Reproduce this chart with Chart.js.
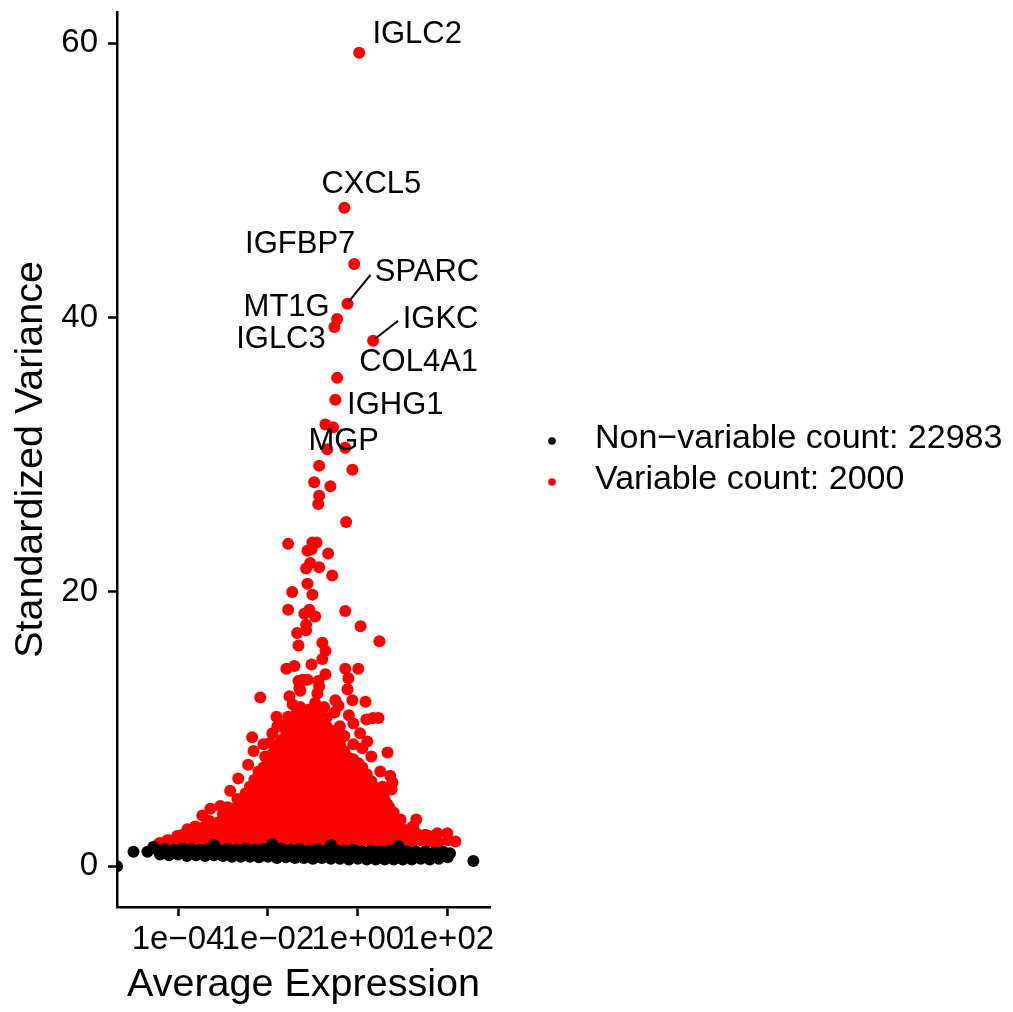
<!DOCTYPE html>
<html>
<head>
<meta charset="utf-8">
<script src="https://cdn.jsdelivr.net/npm/chart.js@4.4.1/dist/chart.umd.min.js"></script>
<style>
  html, body { margin: 0; padding: 0; background: #fff; }
  canvas { display: block; }
</style>
</head>
<body>
<canvas id="chart" width="1013" height="1012"></canvas>
<script>
// ---- data (x values are log10 of average expression) ----
const xTicks = [1e-4, 1e-2, 1, 1e2];
const xTickLabels = ["1e\u221204", "1e\u221202", "1e+00", "1e+02"];
const yTicks = [0, 20, 40, 60];
const xLog10Range = [-5.357, 2.94];
const yRange = [-2.97, 62.27];

const seriesLabels = ["Non\u2212variable count: 22983", "Variable count: 2000"];

// labelled top genes
const geneNames = ["IGLC2", "CXCL5", "IGFBP7", "SPARC", "MT1G", "IGLC3", "IGKC", "COL4A1", "IGHG1", "MGP"];
const genePoints = [
  [0.03, 59.3], [-0.30, 48.0], [-0.08, 43.9], [-0.23, 41.0], [-0.46, 39.9],
  [-0.52, 39.3], [0.34, 38.3], [-0.46, 35.6], [-0.50, 34.0], [-0.28, 30.5]
];

// scattered variable genes
const variableSparse = [
  [-0.72,32.2],[-0.55,32.0],[-0.68,30.4],[-0.86,29.2],[-0.12,28.9],[-0.97,28.0],[-0.61,27.7],[-0.86,27.0],
  [-0.88,26.4],[-0.26,25.1],[-1.55,23.5],[-1.01,23.6],[-0.92,23.6],[-1.12,23.0],[-1.03,23.1],[-0.66,22.8],
  [-1.06,22.1],[-1.15,21.7],[-0.86,21.8],[-0.57,21.2],[-1.12,20.6],[-1.46,20.0],[-1.01,19.8],[-1.55,18.7],
  [-1.08,18.7],[-1.19,18.4],[-0.95,18.2],[-0.28,18.6],[0.06,17.5],[-1.15,17.6],[-1.35,17.0],[-1.15,17.2],
  [-1.32,16.1],[-0.79,16.3],[-0.72,15.7],[-0.79,15.1],[0.48,16.4],[-1.59,14.4],[-1.41,14.6],[-1.03,14.7],
  [-0.28,14.4],[0.01,14.4],[-0.72,14.0],[-0.21,13.7],[-1.32,13.5],[-1.23,13.6],[-1.12,13.6],[-1.30,13.0],
  [-0.88,13.5],[-0.86,13.1],[-0.23,12.9],[-2.17,12.3],[-1.52,12.4],[-0.90,12.6],[-0.50,12.1],[-0.12,12.1],
  [0.17,12.0],[-1.28,12.8],[-1.28,11.6],[-1.01,11.5],[-0.43,11.7],[-0.52,11.2],[-1.28,11.2],[-1.01,10.9],
  [-1.81,10.9],[-0.10,10.4],[0.19,10.7],[0.34,10.8],[0.46,10.8],[-1.79,10.2],[-1.50,9.8],[-1.28,9.8],
  [-1.12,10.5],[-0.99,10.2],[-0.50,9.6],[-0.50,9.3],[0.21,9.1],[0.66,8.3],[-2.35,9.4],[-2.10,8.9],
  [-2.32,8.4],[-1.79,8.8],[-2.06,8.0],[-1.43,8.5],[-2.44,7.4],[-2.21,6.9],[-1.97,7.1],[-1.72,7.3],
  [-2.28,6.1],[-2.66,6.4],[-2.84,5.5],[-2.68,4.9],[-2.01,5.8],[-1.57,6.5],[-3.28,4.2],[-3.46,3.7],
  [-3.62,2.9],[-3.79,2.7],[-4.02,2.2],[-4.24,1.9],[-4.44,1.6],[-3.06,4.4],[-2.46,4.7],
  [-1.06,8.7],[-0.83,8.0],[-0.57,8.0],[-0.61,7.3],[-0.23,7.8],[-0.10,7.8],[0.01,7.5],[-0.95,7.1],
  [-0.39,6.7],[0.50,6.9],[0.72,6.6],[0.77,6.1],[0.03,5.8],[0.28,5.8],[0.55,5.8],[0.75,5.6],
  [-0.17,5.4],[0.57,5.2],[0.66,4.5],[0.37,4.2],[0.21,3.7],[0.59,3.8],[0.95,3.4],[1.30,3.4],
  [1.23,2.9],[1.57,2.2],[1.77,2.4],[1.99,2.4],[2.17,1.8],[1.75,1.6],[1.17,2.7],[0.89,2.9],[0.43,3.1],
  [-1.7,10.3],[-1.55,10.9],[-1.4,10.4],[-1.35,11.3],[-1.15,11.0],[-0.95,10.6],[-0.8,10.1],[-0.7,10.8],
  [-0.6,9.9],[-0.4,10.2],[-0.3,9.5],[-1.6,9.5],[-1.9,9.7],[-0.75,11.6],[-0.95,11.9],[-1.45,11.8],
  [-0.2,11.0],[0.05,9.7],[0.1,8.6],[-0.1,8.9],[0.3,8.0],[-1.95,9.0]
];

// dense body of variable genes just above the non-variable band
const variableCore = [
  [-4.4,1.7],[-4.2,1.9],[-4.0,1.8],[-3.8,1.9],[-3.6,1.7],[-3.4,1.9],[-3.2,1.8],[-3.0,1.7],[-2.8,1.9],[-2.6,1.8],
  [-2.4,1.7],[-2.2,1.9],[-2.0,1.8],[-1.8,1.7],[-1.6,1.9],[-1.4,1.8],[-1.2,1.7],[-1.0,1.9],[-0.8,1.8],[-0.6,1.7],
  [-0.4,1.9],[-0.2,1.8],[0.0,1.7],[0.2,1.9],[0.4,1.8],[0.6,1.7],[0.8,1.9],[1.0,1.8],[1.2,1.7],[1.4,1.9],
  [1.6,1.8],[1.8,1.7],[2.0,1.9],
  [-3.9,2.3],[-3.7,2.2],[-3.5,2.4],[-3.3,2.3],[-3.1,2.2],[-2.9,2.4],[-2.7,2.3],[-2.5,2.2],[-2.3,2.4],[-2.1,2.3],
  [-1.9,2.2],[-1.7,2.4],[-1.5,2.3],[-1.3,2.2],[-1.1,2.4],[-0.9,2.3],[-0.7,2.2],[-0.5,2.4],[-0.3,2.3],[-0.1,2.2],
  [0.1,2.4],[0.3,2.3],[0.5,2.2],[0.7,2.4],[0.9,2.3],[1.1,2.2],[1.3,2.4],[1.5,2.3],[1.7,2.2],
  [-3.6,2.8],[-3.4,2.9],[-3.2,2.7],[-3.0,2.8],[-2.8,2.9],[-2.6,2.7],[-2.4,2.8],[-2.2,2.9],[-2.0,2.7],[-1.8,2.8],
  [-1.6,2.9],[-1.4,2.7],[-1.2,2.8],[-1.0,2.9],[-0.8,2.7],[-0.6,2.8],[-0.4,2.9],[-0.2,2.7],[0.0,2.8],[0.2,2.9],
  [0.4,2.7],[0.6,2.8],[0.8,2.9],[1.0,2.7],[1.2,2.8],
  [-3.3,3.3],[-3.1,3.2],[-2.9,3.4],[-2.7,3.3],[-2.5,3.2],[-2.3,3.4],[-2.1,3.3],[-1.9,3.2],[-1.7,3.4],[-1.5,3.3],
  [-1.3,3.2],[-1.1,3.4],[-0.9,3.3],[-0.7,3.2],[-0.5,3.4],[-0.3,3.3],[-0.1,3.2],[0.1,3.4],[0.3,3.3],[0.5,3.2],
  [0.7,3.4],[0.9,3.3],
  [-3.0,3.8],[-2.8,3.9],[-2.6,3.7],[-2.4,3.8],[-2.2,3.9],[-2.0,3.7],[-1.8,3.8],[-1.6,3.9],[-1.4,3.7],[-1.2,3.8],
  [-1.0,3.9],[-0.8,3.7],[-0.6,3.8],[-0.4,3.9],[-0.2,3.7],[0.0,3.8],[0.2,3.9],[0.4,3.7],[0.6,3.8],[0.8,3.9],
  [-2.9,4.3],[-2.7,4.3],[-2.5,4.2],[-2.3,4.4],[-2.1,4.3],[-1.9,4.2],[-1.7,4.4],[-1.5,4.3],[-1.3,4.2],[-1.1,4.4],
  [-0.9,4.3],[-0.7,4.2],[-0.5,4.4],[-0.3,4.3],[-0.1,4.2],[0.1,4.4],[0.3,4.3],[0.5,4.2],[0.7,4.3],
  [-2.6,4.8],[-2.4,4.8],[-2.2,4.9],[-2.0,4.7],[-1.8,4.8],[-1.6,4.9],[-1.4,4.7],[-1.2,4.8],[-1.0,4.9],[-0.8,4.7],
  [-0.6,4.8],[-0.4,4.9],[-0.2,4.7],[0.0,4.8],[0.2,4.9],[0.4,4.7],[0.6,4.8],
  [-2.5,5.3],[-2.3,5.3],[-2.1,5.2],[-1.9,5.4],[-1.7,5.3],[-1.5,5.2],[-1.3,5.4],[-1.1,5.3],[-0.9,5.2],[-0.7,5.4],
  [-0.5,5.3],[-0.3,5.2],[-0.1,5.4],[0.1,5.3],[0.3,5.2],[0.5,5.3],
  [-2.4,5.8],[-2.2,5.8],[-2.0,5.9],[-1.8,5.7],[-1.6,5.8],[-1.4,5.9],[-1.2,5.7],[-1.0,5.8],[-0.8,5.9],[-0.6,5.7],
  [-0.4,5.8],[-0.2,5.9],[0.0,5.7],[0.2,5.8],[0.4,5.7],
  [-2.3,6.3],[-2.1,6.3],[-1.9,6.2],[-1.7,6.4],[-1.5,6.3],[-1.3,6.2],[-1.1,6.4],[-0.9,6.3],[-0.7,6.2],[-0.5,6.4],
  [-0.3,6.3],[-0.1,6.2],[0.1,6.3],[0.3,6.2],
  [-2.2,6.7],[-2.0,6.8],[-1.8,6.8],[-1.6,6.9],[-1.4,6.7],[-1.2,6.8],[-1.0,6.9],[-0.8,6.7],[-0.6,6.8],[-0.4,6.9],
  [-0.2,6.7],[0.0,6.8],[0.2,6.7],
  [-2.1,7.2],[-1.9,7.3],[-1.7,7.3],[-1.5,7.2],[-1.3,7.4],[-1.1,7.3],[-0.9,7.2],[-0.7,7.4],[-0.5,7.3],[-0.3,7.2],
  [-0.1,7.3],[0.1,7.2],
  [-2.0,7.7],[-1.8,7.8],[-1.6,7.8],[-1.4,7.9],[-1.2,7.7],[-1.0,7.8],[-0.8,7.9],[-0.6,7.7],[-0.4,7.8],[-0.2,7.9],
  [-1.9,8.2],[-1.7,8.3],[-1.5,8.3],[-1.3,8.2],[-1.1,8.4],[-0.9,8.3],[-0.7,8.2],[-0.5,8.3],[-0.3,8.4],
  [-1.8,8.7],[-1.6,8.8],[-1.4,8.8],[-1.2,8.9],[-1.0,8.7],[-0.8,8.8],[-0.6,8.8],[-0.4,8.9],
  [-1.7,9.2],[-1.5,9.3],[-1.3,9.3],[-1.1,9.2],[-0.9,9.4],[-0.7,9.3],[-0.5,9.1],
  [-1.6,9.9],[-1.4,9.8],[-1.2,9.8],[-1.0,9.9],[-0.8,9.8],[-0.6,9.7],
  [-1.5,10.3],[-1.3,10.2],[-1.1,10.4],[-0.9,10.3],[-0.7,10.2],
  [-1.4,10.8],[-1.2,10.7],[-1.0,10.9],[-0.8,10.8],
  [-1.3,11.3],[-1.1,11.4],[-0.9,11.2]
];

// non-variable genes (band near 1); -Infinity = zero mean, drawn at the axis edge like ggplot
const nonVariable = [
  [-4.5,1.3],[-4.3,1.25],[-4.1,1.2],[-3.9,1.3],[-3.7,1.25],[-3.5,1.2],[-3.3,1.3],[-3.1,1.2],[-2.9,1.25],[-2.7,1.2],
  [-2.5,1.3],[-2.3,1.2],[-2.1,1.25],[-1.9,1.2],[-1.7,1.3],[-1.5,1.2],[-1.3,1.25],[-1.1,1.15],[-0.9,1.25],[-0.7,1.15],
  [-0.5,1.2],[-0.3,1.15],[-0.1,1.2],[0.1,1.1],[0.3,1.15],[0.5,1.1],[0.7,1.15],[0.9,1.05],[1.1,1.1],[1.3,1.05],
  [1.5,1.1],[1.7,1.0],[1.9,1.05],[2.05,0.95],
  [-4.4,0.85],[-4.2,0.8],[-4.0,0.85],[-3.8,0.75],[-3.6,0.8],[-3.4,0.75],[-3.2,0.8],[-3.0,0.75],[-2.8,0.7],[-2.6,0.7],
  [-2.4,0.7],[-2.2,0.65],[-2.0,0.7],[-1.8,0.6],[-1.6,0.65],[-1.4,0.6],[-1.2,0.6],[-1.0,0.55],[-0.8,0.6],[-0.6,0.55],
  [-0.4,0.55],[-0.2,0.5],[0.0,0.55],[0.2,0.5],[0.4,0.5],[0.6,0.5],[0.8,0.5],[1.0,0.5],[1.2,0.5],[1.4,0.55],
  [1.6,0.5],[1.8,0.55],[2.0,0.65],
  [-4.3,1.05],[-3.9,1.0],[-3.5,1.05],[-3.1,1.0],[-2.7,1.0],[-2.3,0.95],[-1.9,0.95],[-1.5,0.9],[-1.1,0.85],[-0.7,0.9],
  [-0.3,0.85],[0.1,0.8],[0.5,0.8],[0.9,0.8],[1.3,0.8],[1.7,0.8],
  [-4.99,1.05],[-4.68,1.05],[-4.55,1.4],[-3.2,1.55],[-1.9,1.6],[-0.6,1.55],[0.9,1.5],[2.57,0.39],[-Infinity,0]
];

// ---- styling for gene labels (pixel offsets from their point) ----
const geneLabelOffsets = [[58,-18.5],[27,-23.5],[-54,-20],[79.5,-31],[-50.5,-11],[-53.5,12],[67.5,-21],[81.5,-15],[60,6],[-1.5,-6]];
const geneLeaderLines = [null, null, null, [1,-2,23,-29], null, null, [2,-2,25,-20], null, null, null];

const FONT = '"Liberation Sans", Arial, Helvetica, sans-serif';
const xMin = Math.pow(10, xLog10Range[0]);
const xMax = Math.pow(10, xLog10Range[1]);

function toXY(p) {
  const x = p[0] === -Infinity ? xMin : Math.pow(10, p[0]);
  return { x: x, y: p[1] };
}

const sideLegend = {
  id: "sideLegend",
  afterDraw(chart) {
    const { ctx, chartArea } = chart;
    const midY = (chartArea.top + chartArea.bottom) / 2;
    ctx.save();
    ctx.font = "34px " + FONT;
    ctx.textBaseline = "middle";
    ctx.textAlign = "left";
    chart.data.datasets.forEach((ds, i) => {
      const y = midY + (i - 0.5) * 41;
      ctx.fillStyle = ds.backgroundColor;
      ctx.beginPath();
      ctx.arc(chartArea.right + 62, y + 2, 3.8, 0, Math.PI * 2);
      ctx.fill();
      ctx.fillStyle = "#000";
      ctx.fillText(ds.label, chartArea.right + 105, y);
    });
    ctx.restore();
  }
};

const geneLabels = {
  id: "geneLabels",
  afterDatasetsDraw(chart) {
    const ctx = chart.ctx;
    const xs = chart.scales.x, ys = chart.scales.y;
    ctx.save();
    ctx.font = "31px " + FONT;
    ctx.fillStyle = "#000";
    ctx.strokeStyle = "#000";
    ctx.lineWidth = 2;
    ctx.textAlign = "center";
    ctx.textBaseline = "middle";
    geneNames.forEach((name, i) => {
      const px = xs.getPixelForValue(Math.pow(10, genePoints[i][0]));
      const py = ys.getPixelForValue(genePoints[i][1]);
      const off = geneLabelOffsets[i];
      ctx.fillText(name, px + off[0], py + off[1]);
      const seg = geneLeaderLines[i];
      if (seg) {
        ctx.beginPath();
        ctx.moveTo(px + seg[0], py + seg[1]);
        ctx.lineTo(px + seg[2], py + seg[3]);
        ctx.stroke();
      }
    });
    ctx.restore();
  }
};

const ctx = document.getElementById("chart").getContext("2d");
new Chart(ctx, {
  type: "scatter",
  data: {
    datasets: [
      {
        label: seriesLabels[0],
        data: nonVariable.map(toXY),
        backgroundColor: "#000000",
        borderColor: "#000000",
        borderWidth: 0,
        pointRadius: 6,
        clip: 0
      },
      {
        label: seriesLabels[1],
        data: variableCore.concat(variableSparse, genePoints).map(toXY),
        backgroundColor: "#FF0000",
        borderColor: "#FF0000",
        borderWidth: 0,
        pointRadius: 6,
        clip: 0
      }
    ]
  },
  options: {
    responsive: false,
    animation: false,
    events: [],
    layout: { padding: { top: 12, right: 523, left: 0, bottom: 0 } },
    plugins: {
      legend: { display: false },
      tooltip: { enabled: false }
    },
    scales: {
      x: {
        type: "logarithmic",
        min: xMin,
        max: xMax,
        afterBuildTicks: s => { s.ticks = xTicks.map(v => ({ value: v })); },
        afterFit: s => { s.height = 105; s.paddingLeft = 0; s.paddingRight = 0; },
        ticks: {
          autoSkip: false,
          maxRotation: 0,
          padding: 4,
          color: "#000",
          font: { family: FONT, size: 33 },
          callback: (v) => xTickLabels[xTicks.indexOf(v)]
        },
        grid: { drawOnChartArea: false, drawTicks: true, tickLength: 9, tickColor: "#000", tickWidth: 2.5 },
        border: { display: true, color: "#000", width: 2.5 },
        title: {
          display: true,
          text: "Average Expression",
          color: "#000",
          font: { family: FONT, size: 39.5 },
          padding: { top: 0, bottom: 3 }
        }
      },
      y: {
        type: "linear",
        min: yRange[0],
        max: yRange[1],
        afterBuildTicks: s => { s.ticks = yTicks.map(v => ({ value: v })); },
        afterFit: s => { s.width = 117; s.paddingTop = 0; s.paddingBottom = 0; },
        ticks: {
          padding: 10,
          color: "#000",
          font: { family: FONT, size: 33 }
        },
        grid: { drawOnChartArea: false, drawTicks: true, tickLength: 9, tickColor: "#000", tickWidth: 2.5 },
        border: { display: true, color: "#000", width: 2.5 },
        title: {
          display: true,
          text: "Standardized Variance",
          color: "#000",
          font: { family: FONT, size: 39.5 },
          padding: { top: 7, bottom: 0 }
        }
      }
    }
  },
  plugins: [geneLabels, sideLegend]
});
</script>
</body>
</html>
